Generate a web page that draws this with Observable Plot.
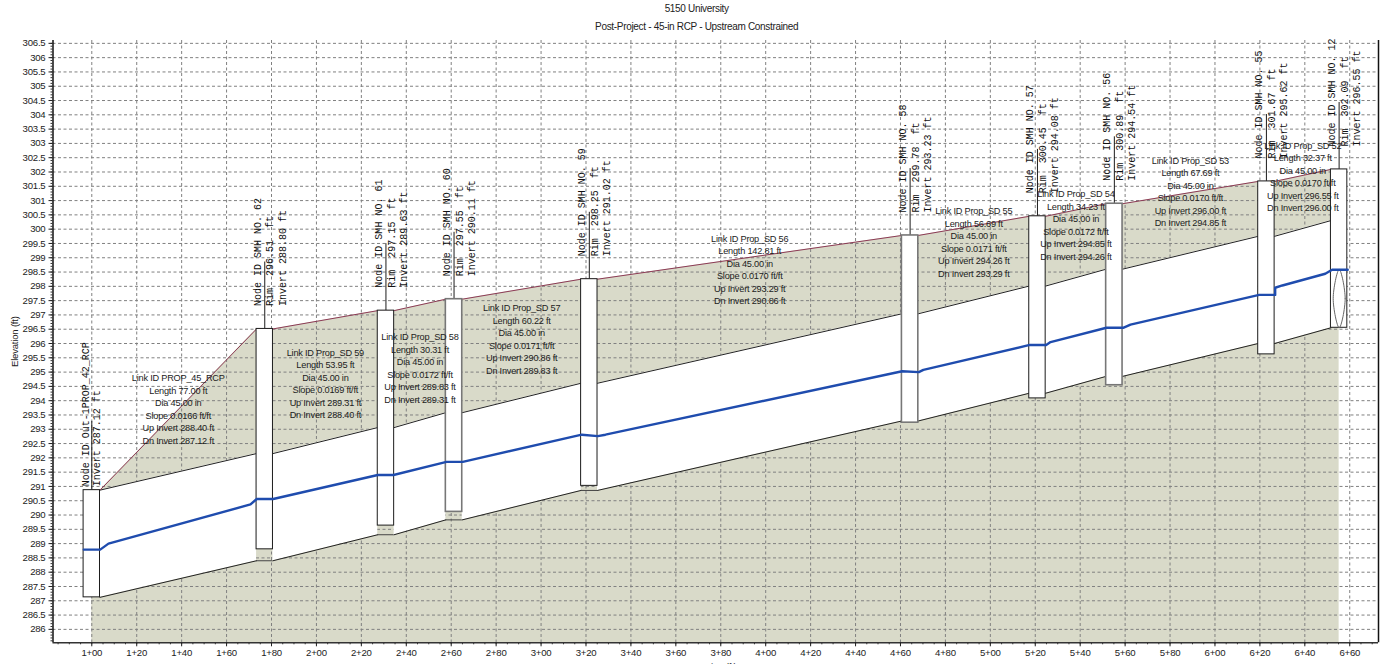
<!DOCTYPE html>
<html>
<head>
<meta charset="utf-8">
<script src="https://cdn.jsdelivr.net/npm/d3@7"></script>
<script src="https://cdn.jsdelivr.net/npm/@observablehq/plot@0.6"></script>
<style>
html,body{margin:0;padding:0;background:#fff;overflow:hidden}
#t{font:10px/18px "Liberation Sans",Arial,sans-serif;letter-spacing:-0.32px;color:#222;text-align:center;padding-left:9.4px;height:37px}
svg{display:block}
svg text{letter-spacing:-0.22px}
svg .node-label text, svg text.node-label, svg .node-label{letter-spacing:0}
</style>
</head>
<body>
<div id="t"><div>5150 University</div><div>Post-Project - 45-in RCP - Upstream Constrained</div></div>
<div id="c"></div>
<script>
// Nodes (manholes), downstream to upstream
const nodeNames = ["Out-1PROP_42_RCP","SMH NO. 62","SMH NO. 61","SMH NO. 60","SMH NO. 59","SMH NO. 58","SMH NO. 57","SMH NO. 56","SMH NO. 55","SMH NO. 12"];
const nodeStations = [100,177,230.95,261.26,321.48,464.29,520.98,555.21,622.9,655.27];
const nodeRims = [290.87,296.51,297.15,297.55,298.25,299.78,300.45,300.89,301.67,302.09];
const nodeInverts = [287.12,288.80,289.63,290.11,291.02,293.23,294.08,294.54,295.62,296.55];
const grayEdgedNodes = ["SMH NO. 60","SMH NO. 58","SMH NO. 56"];

// Links (pipes)
const linkNames = ["PROP_45_RCP","Prop_SD 59","Prop_SD 58","Prop_SD 57","Prop_SD 56","Prop_SD 55","Prop_SD 54","Prop_SD 53","Prop_SD 52"];
const linkLengths = ["77.00","53.95","30.31","60.22","142.81","56.69","34.23","67.69","32.37"];
const linkSlopes = ["0.0166","0.0169","0.0172","0.0171","0.0170","0.0171","0.0172","0.0170","0.0170"];
const linkUp = [288.40,289.31,289.83,290.86,293.29,294.26,294.85,296.00,296.55];
const linkDn = [287.12,288.40,289.31,289.83,290.86,293.29,294.26,294.85,296.00];
const linkLabelElev = [293.73,294.62,295.16,296.18,298.6,299.57,300.17,301.33,301.86];

// Hydraulic grade line
const hglStation = [96.44,103.74,107.43,170.65,173.45,180.75,227.31,234.3,257.9,265.15,318.13,325.25,328.68,460.75,468.15,470.2,517.56,524.86,526.8,551.7,559.13,562.4,619.67,626.8,626.8,630,649.1,652.15,659.1];
const hglElev = [288.79,288.79,289.0,290.37,290.56,290.56,291.4,291.4,291.86,291.86,292.81,292.76,292.81,295.03,295.0,295.08,295.95,295.95,296.05,296.55,296.55,296.66,297.7,297.7,297.95,298.03,298.44,298.58,298.58];

// Pipe cross-section drawn in the last manhole
const sectionStation = [655.3,657.97,655.3,652.63];
const sectionElev = [296.55,297.57,298.59,297.57];

const pipeRise = 3.75;   // 45 in
const boxHalf = 3.65;    // manhole half-width, ft
const xDomain = [82.73,672.8];
const yDomain = [285.53,306.6];
const xMajor = d3.range(100,661,20);
const xMinor = d3.range(85,673,5);
const yMajor = d3.range(286,306.6,0.5);
const yMinor = d3.range(285.6,306.6,0.1);

const nodes = nodeNames.map((name,i)=>({name,st:nodeStations[i],rim:nodeRims[i],inv:nodeInverts[i]}));
const links = linkNames.map((name,i)=>({name,i,x1:nodeStations[i],x2:nodeStations[i+1],up:linkUp[i],dn:linkDn[i],
  st:(nodeStations[i]+nodeStations[i+1])/2,elev:linkLabelElev[i],
  label:`Link ID ${name}\nLength ${linkLengths[i]} ft\nDia 45.00 in\nSlope ${linkSlopes[i]} ft/ft\nUp Invert ${linkUp[i].toFixed(2)} ft\nDn Invert ${linkDn[i].toFixed(2)} ft`}));

// ground profile: flat over each manhole
const ground = nodes.flatMap((n,i)=>i===0?[{x:n.st,y:n.rim},{x:n.st+boxHalf,y:n.rim}]
  : i===nodes.length-1?[{x:n.st-boxHalf,y:n.rim},{x:n.st,y:n.rim}]
  : [{x:n.st-boxHalf,y:n.rim},{x:n.st+boxHalf,y:n.rim}]);
// pipe bands run between box faces; flat across boxes underneath
const pipePts = links.flatMap(l=>[
  {link:l.name,x:l.x1+boxHalf,inv:l.dn,crown:l.dn+pipeRise},
  {link:l.name,x:l.x2-boxHalf,inv:l.up,crown:l.up+pipeRise}]);
const invertFlat = links.slice(0,-1).map(l=>({x1:l.x2-boxHalf,x2:l.x2+boxHalf,y:l.up}));
const hgl = hglStation.map((x,i)=>({x,y:hglElev[i]}));
const section = sectionStation.map((x,i)=>({x,y:sectionElev[i]}));
const isGray = d=>grayEdgedNodes.includes(d.name);

const sans = '"Liberation Sans",Arial,sans-serif';
const mono = '"Liberation Mono","Courier New",monospace';
const ink = "#1c1c1c";
const gridOpt = {stroke:"#808080",strokeWidth:1,strokeDasharray:"3,2.5"};
const nodeOpt = {x:"st",y:"rim",rotate:-90,textAnchor:"start",fontFamily:mono,fontSize:10,fill:"#111",className:"node-label"};
const boxOpt = {x1:d=>d.st-boxHalf,x2:d=>d.st+boxHalf,y1:"inv",y2:"rim",fill:"#fff"};

const chart = Plot.plot({
  width:1384,height:627,
  marginLeft:52.5,marginRight:6,marginTop:3,marginBottom:21.7,
  style:{background:"#fff",fontFamily:sans},
  x:{domain:xDomain},y:{domain:yDomain},
  marks:[
    Plot.areaY(ground,{x:"x",y1:yDomain[0],y2:"y",fill:"#d9dac9"}),
    Plot.ruleX(xMajor,gridOpt),
    Plot.ruleY(yMajor,gridOpt),
    Plot.areaY(pipePts,{x:"x",y1:"inv",y2:"crown",z:"link",fill:"#fff"}),
    Plot.line(pipePts,{x:"x",y:"crown",z:"link",stroke:"#222",strokeWidth:1}),
    Plot.line(pipePts,{x:"x",y:"inv",z:"link",stroke:"#222",strokeWidth:1}),
    Plot.ruleY(invertFlat,{x1:"x1",x2:"x2",y:"y",stroke:"#444",strokeWidth:1}),
    Plot.line(ground,{x:"x",y:"y",stroke:"#8c3a55",strokeWidth:1}),
    Plot.ruleX(nodes.slice(0,1),{x:"st",y1:"rim",y2:d=>d.rim+2.4,stroke:ink,strokeWidth:1}),
    Plot.ruleX(nodes.slice(1),{x:"st",y1:"rim",y2:d=>d.rim+2.34,stroke:ink,strokeWidth:1}),
    Plot.rect(nodes.filter(d=>!isGray(d)),{...boxOpt,stroke:"#1c1c1c",strokeWidth:1}),
    Plot.rect(nodes.filter(isGray),{...boxOpt,stroke:"#777",strokeWidth:1.6}),
    Plot.line(section,{x:"x",y:"y",curve:"catmull-rom-closed",stroke:"#666",strokeWidth:1}),
    Plot.line(hgl,{x:"x",y:"y",stroke:"#1f4cae",strokeWidth:2.4}),
    // node labels
    Plot.text(nodes.slice(0,1),{...nodeOpt,text:d=>`Node ID ${d.name}`,dx:-6.3,dy:-4}),
    Plot.text(nodes.slice(0,1),{...nodeOpt,text:d=>`Invert ${d.inv.toFixed(2)} ft`,dx:5.4,dy:-4}),
    Plot.text(nodes.slice(1),{...nodeOpt,text:d=>`Node ID ${d.name}`,dx:-7.2,dy:-23}),
    Plot.text(nodes.slice(1),{...nodeOpt,text:d=>`Rim  ${d.rim.toFixed(2)}  ft`,dx:5.4,dy:-23}),
    Plot.text(nodes.slice(1),{...nodeOpt,text:d=>`Invert ${d.inv.toFixed(2)} ft`,dx:17.6,dy:-23}),
    // link labels
    Plot.text(links,{x:"st",y:"elev",text:"label",fontSize:9.2,lineHeight:1.36,fill:ink,fontFamily:sans}),
    // frame
    Plot.ruleX([xDomain[0]],{stroke:"#111",strokeWidth:1.5}),
    Plot.ruleX([xDomain[1]],{stroke:"#111",strokeWidth:1.5}),
    Plot.ruleY([yDomain[0]],{stroke:"#333",strokeWidth:1.5}),
    Plot.axisX({ticks:xMinor,tickSize:2,text:null,label:null,stroke:"#333"}),
    Plot.axisY({ticks:yMinor,tickSize:2,text:null,label:null,stroke:"#333"}),
    Plot.axisX({ticks:xMajor,tickSize:4,label:null,fontSize:9.6,fill:"#222",stroke:"#222",tickPadding:2.5,tickFormat:d=>`${Math.floor(d/100)}+${String(d%100).padStart(2,"0")}`}),
    Plot.axisY({ticks:yMajor,tickSize:4,label:null,fontSize:9.6,fill:"#222",stroke:"#222",tickPadding:3.5,tickFormat:d=>String(d)}),
    Plot.text(["Elevation (ft)"],{frameAnchor:"left",rotate:-90,textAnchor:"middle",dx:-38.5,fontSize:9.6,fill:"#222"}),
    Plot.text(["Station (ft)"],{frameAnchor:"bottom",lineAnchor:"middle",dy:24,fontSize:9.6,fill:"#222"})
  ]
});
document.getElementById("c").appendChild(chart);
</script>
</body>
</html>
